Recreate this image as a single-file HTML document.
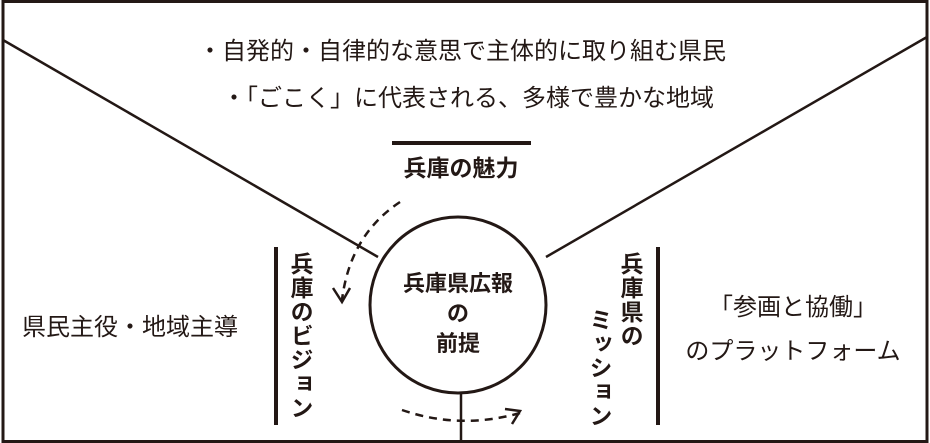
<!DOCTYPE html>
<html><head><meta charset="utf-8"><style>
html,body{margin:0;padding:0;background:#fff;}
body{width:930px;height:443px;position:relative;overflow:hidden;font-family:"Liberation Sans","Noto Sans CJK JP",sans-serif;color:#231815;}
.t{position:absolute;white-space:nowrap;line-height:1;}
.v{position:absolute;writing-mode:vertical-rl;text-orientation:upright;line-height:1;font-size:23px;font-weight:bold;letter-spacing:1px;}
</style></head><body>
<svg width="930" height="443" style="position:absolute;left:0;top:0">
<rect x="3" y="1.5" width="924" height="440" fill="none" stroke="#231815" stroke-width="3"/>
<line x1="3" y1="40" x2="378" y2="257" stroke="#231815" stroke-width="2.5"/>
<line x1="927" y1="37" x2="546" y2="257" stroke="#231815" stroke-width="2.5"/>
<circle cx="458" cy="305" r="88" fill="#fff" stroke="#231815" stroke-width="3"/>
<line x1="461" y1="393" x2="461" y2="441" stroke="#231815" stroke-width="2.5"/>
<line x1="392" y1="143" x2="531" y2="143" stroke="#231815" stroke-width="4"/>
<line x1="276" y1="247" x2="276" y2="425" stroke="#231815" stroke-width="4"/>
<line x1="658" y1="247" x2="658" y2="425" stroke="#231815" stroke-width="4"/>
<path d="M400 202 Q350 235 342 300" fill="none" stroke="#231815" stroke-width="2.5" stroke-dasharray="8 6"/>
<path d="M333 288 L342 302 L350 288" fill="none" stroke="#231815" stroke-width="2.5"/>
<path d="M402 410 Q460 430 520 413" fill="none" stroke="#231815" stroke-width="2.5" stroke-dasharray="8 6"/>
<path d="M505 409 L520 411 L512 424" fill="none" stroke="#231815" stroke-width="2.5"/>
</svg>
<div class="t" style="left:198px;top:40px;font-size:24px;">・自発的・自律的な意思で主体的に取り組む県民</div>
<div class="t" style="left:222px;top:87px;font-size:24px;">・「ごこく」に代表される、多様で豊かな地域</div>
<div class="t" style="left:0;width:922px;text-align:center;top:157px;font-size:23px;font-weight:bold;">兵庫の魅力</div>
<div class="t" style="left:22px;top:316px;font-size:24px;">県民主役・地域主導</div>
<div class="t" style="left:660px;width:266px;text-align:center;top:296px;font-size:24px;">「参画と協働」</div>
<div class="t" style="left:660px;width:266px;text-align:center;top:340px;font-size:24px;">のプラットフォーム</div>
<div class="t" style="left:370px;width:176px;text-align:center;top:273px;font-size:22px;font-weight:bold;">兵庫県広報</div>
<div class="t" style="left:370px;width:176px;text-align:center;top:303px;font-size:22px;font-weight:bold;">の</div>
<div class="t" style="left:370px;width:176px;text-align:center;top:333px;font-size:22px;font-weight:bold;">前提</div>
<div class="v" style="left:288px;top:252px;">兵庫のビジョン</div>
<div class="v" style="left:618px;top:252px;">兵庫県の</div>
<div class="v" style="left:587px;top:308px;">ミッション</div>
</body></html>
